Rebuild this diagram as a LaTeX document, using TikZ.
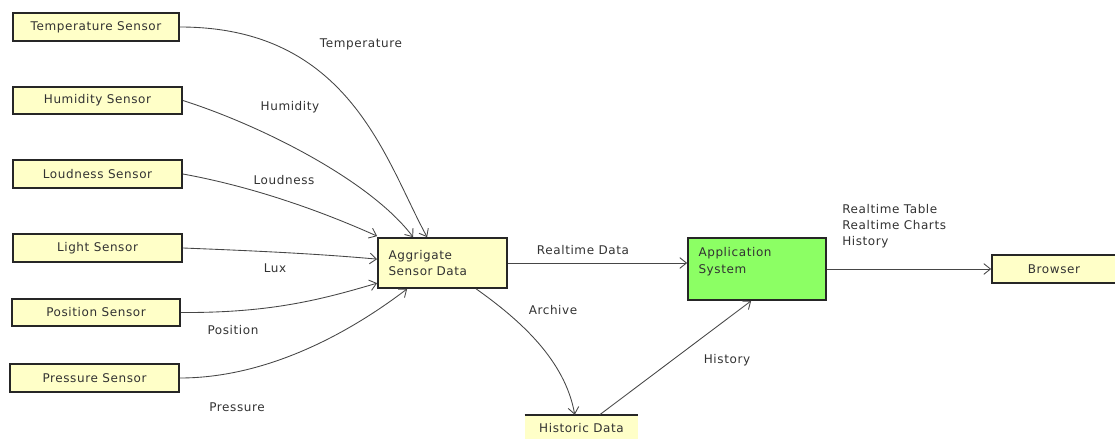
\documentclass[tikz,border=0pt]{standalone}
\usepackage{fontspec}
\setmainfont{DejaVu Sans}[LetterSpace=5]
\usetikzlibrary{arrows.meta,calc}
\definecolor{boxyellow}{RGB}{255,255,200}
\definecolor{boxgreen}{RGB}{140,255,100}
\definecolor{edgegray}{RGB}{70,70,70}
\definecolor{txtgray}{RGB}{50,50,50}
\tikzset{
  sensorbox/.style={draw=black!85, line width=1.3pt, fill=boxyellow, inner sep=0pt,
    font=\fontsize{9}{10}\selectfont, text=txtgray},
  procbox/.style={draw=black!85, line width=1.3pt, inner sep=0pt,
    font=\fontsize{9}{12.5}\selectfont, text=txtgray, align=left},
  flow/.style={draw=edgegray, line width=0.65pt, -{Straight Barb[length=5pt,width=8pt]}},
  lbl/.style={font=\fontsize{9}{12}\selectfont, text=txtgray, inner sep=0pt},
}
\begin{document}
\begin{tikzpicture}[x=0.75pt,y=-0.75pt]
\useasboundingbox (0,0) rectangle (1115,439);
% sensors
\node[sensorbox, minimum width=166*0.75pt, minimum height=28*0.75pt] (T) at (96,27) {Temperature Sensor};
\node[sensorbox, minimum width=169*0.75pt, minimum height=27*0.75pt] (H) at (97.5,100.5) {Humidity Sensor};
\node[sensorbox, minimum width=169*0.75pt, minimum height=28*0.75pt] (L) at (97.5,174) {Loudness Sensor};
\node[sensorbox, minimum width=169*0.75pt, minimum height=28*0.75pt] (Li) at (97.5,248) {Light Sensor};
\node[sensorbox, minimum width=168*0.75pt, minimum height=27*0.75pt] (P) at (96,312.5) {Position Sensor};
\node[sensorbox, minimum width=169*0.75pt, minimum height=28*0.75pt] (Pr) at (94.5,378) {Pressure Sensor};
% process boxes
\node[procbox, fill=boxyellow, minimum width=129*0.75pt, minimum height=50*0.75pt, text width=108*0.75pt] (A) at (442.5,263) {Aggrigate\\Sensor Data};
\node[procbox, fill=boxgreen, minimum width=138*0.75pt, minimum height=62*0.75pt, text width=117*0.75pt] (S) at (757,269) {Application\\System\\~};
\node[sensorbox, minimum width=124*0.75pt, minimum height=28*0.75pt] (B) at (1054,269) {Browser};
% data store
\node[fill=boxyellow, inner sep=0pt, minimum width=113*0.75pt, minimum height=26*0.75pt,
  font=\fontsize{9}{10}\selectfont, text=txtgray] (D) at (581.5,428) {Historic Data};
\draw[black!85, line width=1.3pt] (D.north west) -- (D.north east);
% anchor points
\coordinate (aT) at ($(A.north west)+(50,0)$);
\coordinate (aH) at ($(A.north west)+(36,0)$);
\coordinate (aL) at ($(A.north west)+(0,-1)$);
\coordinate (aLi) at ($(A.north west)+(0,22)$);
\coordinate (aP) at ($(A.north west)+(0,46)$);
\coordinate (aPr) at ($(A.south west)+(30,0)$);
\coordinate (aArc) at ($(A.south west)+(99,0)$);
\coordinate (dIn) at ($(D.north west)+(50,0)$);
\coordinate (dOut) at ($(D.north west)+(75,0)$);
\coordinate (sIn) at ($(S.south west)+(64,0)$);
% connectors
\draw[flow] (T.east) .. controls (350,27) and (385,160) .. (aT);
\draw[flow] (H.east) .. controls (260,125) and (370,180) .. (aH);
\draw[flow] (L.east) .. controls (260,188) and (330,215) .. (aL);
\draw[flow] (Li.east) .. controls (260,251) and (320,254) .. (aLi);
\draw[flow] (P.east) .. controls (270,313) and (320,300) .. (aP);
\draw[flow] (Pr.east) .. controls (260,378) and (340,340) .. (aPr);
\draw[flow] (A.east) -- (A.east -| S.west);
\draw[flow] (aArc) .. controls (520,320) and (565,360) .. (dIn);
\draw[flow] (dOut) -- (sIn);
\draw[flow] (S.east |- B.west) -- (B.west);
% labels
\node[lbl] (lT) at (361,44) {Temperature};
\node[lbl] (lH) at (290,107) {Humidity};
\node[lbl] (lL) at (284,180) {Loudness};
\node[lbl] (lLi) at (275,268) {Lux};
\node[lbl] (lP) at (233,330) {Position};
\node[lbl] (lPr) at (237,407) {Pressure};
\node[lbl] (lR) at (583,250) {Realtime Data};
\node[lbl] (lA) at (553,310) {Archive};
\node[lbl] (lHi) at (727,360) {History};
\node[lbl, align=left, anchor=west, font=\fontsize{9}{12}\selectfont] (lB) at (842,226) {Realtime Table\\Realtime Charts\\History};
\end{tikzpicture}
\end{document}
